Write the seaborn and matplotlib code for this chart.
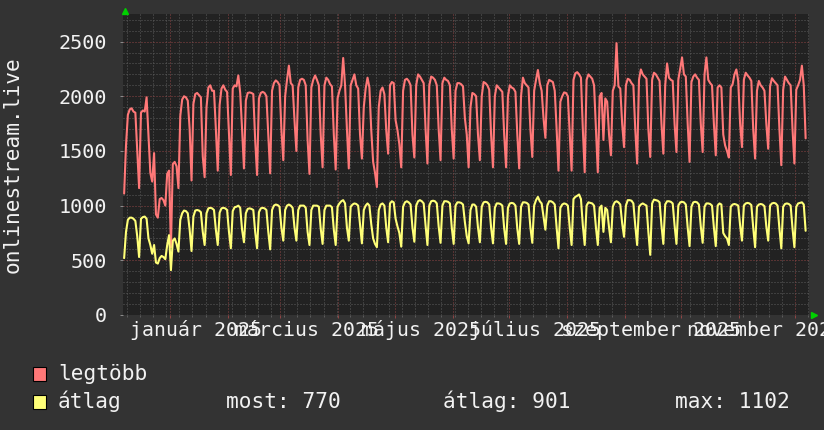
import numpy as np
import pandas as pd
import matplotlib
matplotlib.use("Agg")
import matplotlib.pyplot as plt
import matplotlib.dates as mdates
import matplotlib.transforms as mtransforms
from matplotlib.ticker import MultipleLocator, NullFormatter
from matplotlib.patches import Rectangle
import seaborn as sns

# ---------------- data (daily values, first day = 2024-12-07) ----------------
start_date = "2024-12-07"
series_names = ["legtöbb", "átlag"]
y_label = "onlinestream.live"

# first two days (Sat, Sun) then weekly rows Mon..Sun, then last partial week
legtobb_head = [1110, 1550]
legtobb_weeks = [
    [1830, 1880, 1890, 1860, 1850, 1500, 1160],
    [1850, 1870, 1860, 1990, 1650, 1300, 1220],
    [1480, 920, 890, 1060, 1070, 1050, 1000],
    [1290, 1320, 620, 1380, 1400, 1360, 1160],
    [1820, 1970, 2000, 1990, 1960, 1700, 1230],
    [1930, 2020, 2030, 2010, 1990, 1450, 1260],
    [1900, 2080, 2100, 2050, 2050, 1700, 1320],
    [1920, 2070, 2100, 2060, 2040, 1650, 1280],
    [2070, 2100, 2090, 2190, 2030, 1700, 1340],
    [1960, 2030, 2035, 2030, 2020, 1600, 1280],
    [1980, 2030, 2040, 2030, 2000, 1650, 1295],
    [2050, 2120, 2145, 2130, 2100, 1700, 1415],
    [2000, 2150, 2280, 2120, 2100, 1780, 1500],
    [2080, 2150, 2160, 2150, 2100, 1600, 1290],
    [2080, 2150, 2190, 2150, 2100, 1650, 1350],
    [2100, 2170, 2150, 2110, 2090, 1650, 1330],
    [1980, 2050, 2100, 2350, 2100, 1700, 1340],
    [2100, 2150, 2200, 2100, 2070, 1650, 1430],
    [1900, 2070, 2170, 2080, 1690, 1400, 1300],
    [1170, 1900, 2050, 2080, 2020, 1690, 1475],
    [2100, 2130, 2120, 1780, 1690, 1560, 1350],
    [2050, 2150, 2160, 2140, 2100, 1650, 1440],
    [2100, 2200, 2180, 2150, 2120, 1700, 1385],
    [2100, 2180, 2170, 2150, 2100, 1700, 1415],
    [2120, 2170, 2150, 2140, 2100, 1700, 1430],
    [2050, 2120, 2120, 2110, 2090, 1800, 1650],
    [1350, 1900, 2030, 2020, 2000, 1650, 1415],
    [2000, 2130, 2120, 2100, 2060, 1650, 1350],
    [2000, 2100, 2080, 2060, 2040, 1650, 1350],
    [2000, 2100, 2080, 2070, 2040, 1650, 1340],
    [2000, 2170, 2120, 2100, 2080, 1700, 1445],
    [2050, 2150, 2240, 2120, 2050, 1800, 1620],
    [2100, 2150, 2140, 2130, 2050, 1700, 1320],
    [1950, 2000, 2035, 2030, 2000, 1650, 1320],
    [2150, 2210, 2220, 2200, 2170, 1700, 1305],
    [2150, 2200, 2180, 2160, 2100, 1700, 1305],
    [2000, 2030, 1600, 1980, 1950, 1650, 1460],
    [2050, 2100, 2485, 2090, 2070, 1750, 1535],
    [2100, 2160, 2150, 2120, 2100, 1700, 1385],
    [2150, 2245, 2200, 2180, 2160, 1700, 1445],
    [2150, 2215, 2200, 2170, 2140, 1750, 1475],
    [2100, 2300, 2170, 2150, 2140, 1750, 1490],
    [2150, 2250, 2355, 2200, 2180, 1750, 1400],
    [2130, 2180, 2200, 2170, 2150, 1750, 1490],
    [2200, 2355, 2150, 2120, 2100, 1750, 1460],
    [2080, 2100, 2080, 1650, 1550, 1500, 1440],
    [2080, 2110, 2200, 2245, 2140, 1750, 1535],
    [2150, 2215, 2190, 2170, 2140, 1700, 1430],
    [2050, 2140, 2100, 2080, 2050, 1750, 1520],
    [2090, 2165, 2140, 2120, 2100, 1700, 1370],
    [2060, 2180, 2150, 2120, 2100, 1700, 1385],
]
legtobb_tail = [2060, 2100, 2150, 2280, 2100, 1615]

atlag_head = [520, 760]
atlag_weeks = [
    [870, 890, 890, 880, 860, 720, 530],
    [880, 895, 900, 880, 700, 640, 560],
    [640, 480, 470, 520, 540, 530, 510],
    [640, 730, 410, 680, 700, 650, 580],
    [870, 930, 955, 950, 930, 780, 585],
    [900, 955, 960, 955, 940, 760, 640],
    [930, 975, 980, 975, 960, 780, 640],
    [935, 975, 980, 975, 960, 760, 610],
    [950, 985, 990, 1000, 980, 780, 665],
    [930, 970, 975, 970, 960, 760, 610],
    [940, 975, 980, 975, 960, 760, 600],
    [960, 1000, 1010, 1005, 990, 800, 680],
    [960, 1000, 1010, 1000, 980, 800, 680],
    [960, 1000, 1000, 1000, 980, 760, 640],
    [960, 1000, 1000, 1000, 990, 790, 650],
    [960, 1000, 1000, 1000, 985, 780, 640],
    [990, 1020, 1040, 1050, 1020, 800, 680],
    [990, 1010, 1020, 1015, 1000, 830, 655],
    [960, 1000, 1020, 1000, 830, 700, 650],
    [620, 960, 1010, 1020, 1000, 800, 665],
    [1020, 1040, 1030, 880, 810, 750, 625],
    [990, 1030, 1040, 1030, 1010, 800, 670],
    [1000, 1040, 1050, 1040, 1020, 820, 640],
    [1000, 1040, 1045, 1040, 1020, 810, 660],
    [1000, 1040, 1040, 1035, 1020, 800, 650],
    [1000, 1030, 1030, 1025, 1010, 850, 720],
    [655, 960, 1010, 1010, 990, 800, 665],
    [990, 1030, 1035, 1030, 1010, 800, 655],
    [980, 1020, 1020, 1015, 1000, 790, 650],
    [980, 1020, 1025, 1020, 1000, 790, 650],
    [990, 1030, 1030, 1025, 1010, 800, 660],
    [1000, 1050, 1080, 1040, 1020, 900, 780],
    [1000, 1040, 1040, 1030, 1010, 800, 610],
    [980, 1010, 1020, 1015, 1000, 800, 640],
    [1060, 1080, 1090, 1102, 1060, 820, 640],
    [1000, 1030, 1025, 1020, 1000, 800, 640],
    [980, 1000, 760, 980, 960, 800, 665],
    [990, 1030, 1040, 1030, 1010, 840, 715],
    [1000, 1050, 1050, 1045, 1020, 820, 640],
    [990, 1010, 1020, 1010, 1000, 760, 550],
    [1020, 1055, 1050, 1045, 1030, 820, 650],
    [1010, 1040, 1040, 1035, 1020, 820, 650],
    [1000, 1030, 1035, 1030, 1010, 800, 630],
    [990, 1030, 1035, 1030, 1010, 810, 660],
    [990, 1020, 1020, 1015, 1000, 800, 630],
    [1000, 1020, 1010, 750, 720, 700, 640],
    [990, 1010, 1015, 1010, 1000, 820, 680],
    [1000, 1020, 1025, 1020, 1005, 800, 620],
    [990, 1010, 1015, 1010, 995, 810, 680],
    [1000, 1020, 1025, 1020, 1000, 790, 610],
    [990, 1015, 1020, 1015, 1000, 790, 620],
]
atlag_tail = [990, 1020, 1025, 1030, 1010, 770]

month_label_texts = ["január 2025", "március 2025", "május 2025",
                     "július 2025", "szeptember 2025", "november 2025"]
month_label_dates = ["2025-01-15", "2025-03-15", "2025-05-15",
                     "2025-07-15", "2025-09-15", "2025-11-15"]
stats_texts = ["most: 770", "átlag: 901", "max: 1102"]

# ---------------- build frame ----------------
legtobb = legtobb_head + sum(legtobb_weeks, []) + legtobb_tail
atlag = atlag_head + sum(atlag_weeks, []) + atlag_tail
n = len(legtobb)
dates = pd.date_range(start_date, periods=n, freq="D") + pd.Timedelta(hours=12)
df = pd.DataFrame({
    "date": list(dates) + list(dates),
    "value": legtobb + atlag,
    "series": [series_names[0]] * n + [series_names[1]] * n,
})

# ---------------- styling ----------------
sns.set_theme(style="dark")
plt.rcParams["font.family"] = ["DejaVu Sans Mono", "DejaVu Sans"]

W, H = 824, 430
BG = "#333333"
PLOT_BG = "#222222"
RED = "#ff7878"
YEL = "#ffff78"
TXT = "#f2f2f2"

fig = plt.figure(figsize=(W / 100, H / 100), dpi=100)
fig.patch.set_facecolor(BG)
ax = fig.add_axes([123 / W, 1 - 315 / H, 686 / W, 301 / H])
ax.set_facecolor(PLOT_BG)

sns.lineplot(data=df, x="date", y="value", hue="series",
             palette=[RED, YEL], linewidth=1.5, ax=ax, legend=False,
             estimator=None, zorder=3)

jan1 = pd.Timestamp("2025-01-01")
ax.set_xlim(jan1 - pd.Timedelta(days=25.1), jan1 + pd.Timedelta(days=341.3))
ax.set_ylim(0, 2752)

ax.xaxis.set_major_locator(mdates.MonthLocator())
ax.xaxis.set_minor_locator(mdates.WeekdayLocator(byweekday=mdates.MO))
ax.xaxis.set_major_formatter(NullFormatter())
ax.xaxis.set_minor_formatter(NullFormatter())
ax.yaxis.set_major_locator(MultipleLocator(500))
ax.yaxis.set_minor_locator(MultipleLocator(100))

dots = (0, (1, 2))
ax.grid(which="minor", color="#5c5c5c", linestyle=dots, linewidth=0.72, zorder=1)
ax.grid(which="major", color="#8e4444", linestyle=dots, linewidth=0.72, zorder=2)
ax.set_axisbelow(True)

for s in ax.spines.values():
    s.set_visible(False)

ax.set_xlabel("")
ax.set_ylabel("")
ax.tick_params(axis="y", which="major", length=2.5, width=0.72, color="#8a8a8a",
               pad=9.2, labelsize=14.5, labelcolor=TXT, left=True)
ax.tick_params(axis="y", which="minor", length=0)
ax.tick_params(axis="x", which="major", length=2.5, width=0.72, color="#8e4444",
               bottom=True, direction="out")
ax.tick_params(axis="x", which="minor", length=1.5, width=0.72, color="#5c5c5c",
               bottom=True, direction="out")

# month labels (centered mid-month, below plot)
trans = mtransforms.blended_transform_factory(ax.transData, fig.transFigure)
for d, t in zip(month_label_dates, month_label_texts):
    ax.text(mdates.date2num(pd.Timestamp(d)), 1 - 336.5 / H, t, transform=trans,
            ha="center", va="baseline", fontsize=14.3, color=TXT, clip_on=False)

# y axis title
fig.text(12.5 / W, 1 - 164.5 / H, y_label, rotation=90, ha="center", va="center",
         fontsize=15.2, color=TXT)

# green arrows
ax.plot([125 / W], [1 - 10.5 / H], marker="^", color="#00d000", markersize=5,
        transform=fig.transFigure, clip_on=False, linestyle="none")
ax.plot([813.5 / W], [1 - 314.5 / H], marker=">", color="#00d000", markersize=5,
        transform=fig.transFigure, clip_on=False, linestyle="none")

# legend
rows = [(series_names[0], RED, 367, 380.5), (series_names[1], YEL, 395, 408.5)]
for name, col, top, base in rows:
    fig.patches.append(Rectangle((33 / W, 1 - (top + 14) / H), 13 / W, 14 / H,
                                 transform=fig.transFigure, facecolor=col,
                                 edgecolor="black", linewidth=0.8))
    fig.text(58 / W, 1 - base / H, name, ha="left", va="baseline",
             fontsize=15.2, color=TXT)
for x, t in zip([226, 443, 675], stats_texts):
    fig.text(x / W, 1 - 408.5 / H, t, ha="left", va="baseline",
             fontsize=15.2, color=TXT)

fig.savefig("out.png", dpi=100, facecolor=BG)
